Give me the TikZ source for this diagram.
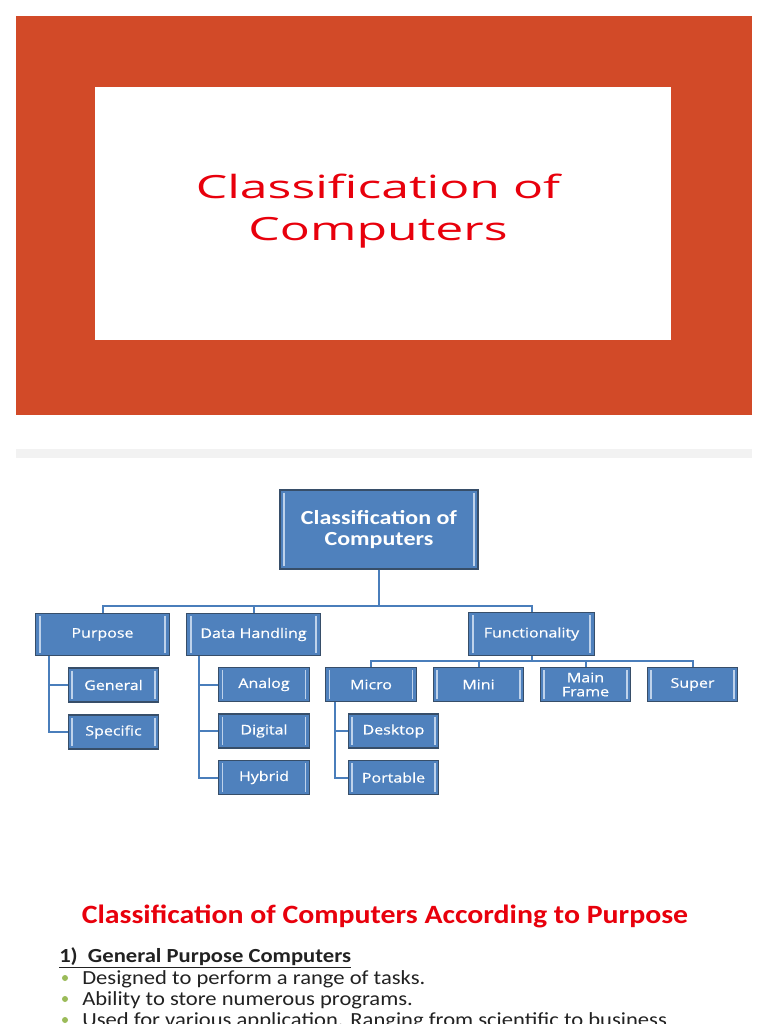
\documentclass[tikz,border=0pt]{standalone}
\usepackage{fontspec}
\setmainfont{Carlito}[FakeStretch=1.13]
\newfontfamily\boxfont{Open Sans}[FakeStretch=1.2,FakeBold=0.6]
\newfontfamily\titlefont{Open Sans}[FakeStretch=1.56]
\newfontfamily\rootfont{Carlito}[FakeStretch=1.2]
\usetikzlibrary{positioning}

\definecolor{framered}{RGB}{210,74,40}
\definecolor{titlered}{RGB}{232,0,12}
\definecolor{bandgray}{RGB}{242,242,242}
\definecolor{boxblue}{RGB}{79,129,189}
\definecolor{boxedge}{RGB}{55,78,105}
\definecolor{boxhigh}{RGB}{190,210,235}
\definecolor{linkblue}{RGB}{74,126,187}
\definecolor{bulletgreen}{RGB}{155,187,89}
\definecolor{bodytext}{RGB}{34,34,34}

\begin{document}
\begin{tikzpicture}[x=0.75pt,y=-0.75pt,
  blue box/.style={rectangle,fill=boxblue,draw=boxedge,line width=0.8pt,text=white,align=center,
    inner sep=0pt,font=\boxfont\fontsize{10}{10.5}\selectfont,
    path picture={
      \draw[boxhigh,line width=1.2pt] ([xshift=3pt,yshift=-2pt]path picture bounding box.north west) -- ([xshift=3pt,yshift=2pt]path picture bounding box.south west);
      \draw[boxhigh,line width=1.2pt] ([xshift=-3pt,yshift=-2pt]path picture bounding box.north east) -- ([xshift=-3pt,yshift=2pt]path picture bounding box.south east);}},
  small box/.style={blue box,minimum width=68pt,minimum height=25.5pt},
  mid box/.style={blue box,minimum width=100pt,minimum height=32pt},
  link/.style={draw=linkblue,line width=1.5pt},
  bullet/.style={circle,fill=bulletgreen,inner sep=0pt,minimum size=4.5pt}]

  \useasboundingbox (0,0) rectangle (768,1024);
  \fill[white] (0,0) rectangle (768,1024);

  \fill[framered] (16,16) rectangle (752,415);
  \fill[white] (95,87) rectangle (671,340);
  \node[text=titlered,font=\titlefont\fontsize{24}{31}\selectfont,align=center] (title) at (378,211) {Classification of\\Computers};

  \fill[bandgray] (16,449) rectangle (752,458);

  \node[blue box,minimum width=148.5pt,minimum height=59.25pt,font=\rootfont\bfseries\fontsize{15}{16.3}\selectfont] (root) at (379,529.5) {Classification of\\Computers};
  \node[mid box] (purpose) at (102.5,634.5) {Purpose};
  \node[mid box] (datah) at (253.5,634.5) {Data Handling};
  \node[mid box,minimum width=94pt] (func) at (531.5,634) {Functionality};
  \node[small box] (general) at (113.5,685) {General};
  \node[small box] (specific) at (113.5,732) {Specific};
  \node[small box] (analog) at (264,684.5) {Analog};
  \node[small box] (digital) at (264,731) {Digital};
  \node[small box] (hybrid) at (264,777.5) {Hybrid};
  \node[small box] (micro) at (371,684.5) {Micro};
  \node[small box] (mini) at (478.5,684.5) {Mini};
  \node[small box] (mainf) at (585.5,684.5) {Main\\Frame};
  \node[small box] (super) at (692.5,684.5) {Super};
  \node[small box] (desktop) at (393.5,731) {Desktop};
  \node[small box] (portable) at (393.5,777.5) {Portable};

  \coordinate (bar) at (0,606);
  \coordinate (fbar) at (0,661);
  \coordinate (pspine) at (49,0);
  \coordinate (dspine) at (199,0);
  \coordinate (mspine) at (335,0);

  \draw[link] (root.south) -- (root.south |- bar);
  \draw[link] (purpose.north) -- (purpose.north |- bar) -| (func.north);
  \draw[link] (datah.north) -- (datah.north |- bar);
  \draw[link] (func.south) -- (func.south |- fbar);
  \draw[link] (micro.north) -- (micro.north |- fbar) -| (super.north);
  \draw[link] (mini.north) -- (mini.north |- fbar);
  \draw[link] (mainf.north) -- (mainf.north |- fbar);
  \draw[link] (pspine |- purpose.south) |- (specific.west);
  \draw[link] (pspine |- general.west) -- (general.west);
  \draw[link] (dspine |- datah.south) |- (hybrid.west);
  \draw[link] (dspine |- analog.west) -- (analog.west);
  \draw[link] (dspine |- digital.west) -- (digital.west);
  \draw[link] (mspine |- micro.south) |- (portable.west);
  \draw[link] (mspine |- desktop.west) -- (desktop.west);

  \node[anchor=base,text=titlered,font=\bfseries\fontsize{19.8}{22}\selectfont,inner sep=0pt] (head) at (385,923) {Classification of Computers According to Purpose};
  \node[anchor=base west,text=bodytext,font=\bfseries\fontsize{15}{18}\selectfont,inner sep=0pt] (gp) at (59,962) {\underline{1)\ \ General Purpose Computers}};
  \foreach \y/\txt [count=\i] in {984/{Designed to perform a range of tasks.},1005/{Ability to store numerous programs.},1026/{Used for various application. Ranging from scientific to business}}
  {
    \node[anchor=base west,text=bodytext,font=\fontsize{15}{18}\selectfont,inner sep=0pt] (item\i) at (82,\y) {\txt};
    \node[bullet] (dot\i) at (65,\y-6) {};
  }
\end{tikzpicture}
\end{document}
